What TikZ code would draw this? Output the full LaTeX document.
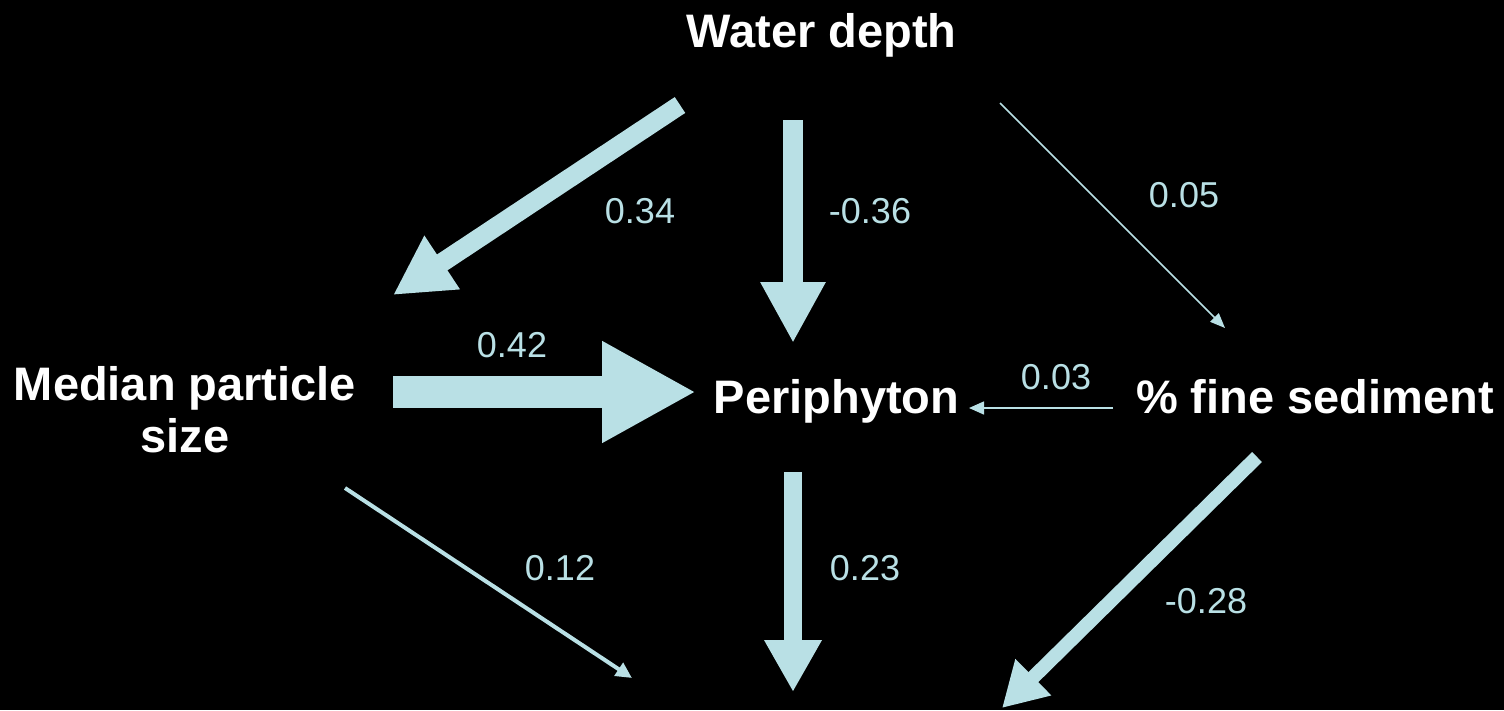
\documentclass[tikz,border=0pt]{standalone}
\usepackage{fontspec}
\setmainfont{Liberation Sans}
\usetikzlibrary{arrows.meta}
\definecolor{arr}{RGB}{185,224,229}
\begin{document}
\begin{tikzpicture}[x=1pt,y=-1pt,
  var/.style={font=\fontsize{47}{52}\selectfont\bfseries, text=white, inner sep=0pt, anchor=base},
  lab/.style={font=\fontsize{36}{40}\selectfont, text=arr, inner sep=0pt, anchor=base},
  conn/.style={draw=arr, line width=#1}]
\fill[black] (0,0) rectangle (1504,710);
\useasboundingbox (0,0) rectangle (1504,710);
% variables
\node[var] (wd) at (821.5,47) {Water depth};
\node[var, align=center] (mps) at (185,452) {Median particle\\size};
\node[var] (peri) at (836.5,413) {Periphyton};
\node[var] (fine) at (1315,413) {\% fine sediment};
% connector end points
\coordinate (wdA) at (680,105);  \coordinate (mpsT) at (393,295);
\coordinate (wdB) at (793,120);  \coordinate (periT) at (793,343);
\coordinate (wdC) at (1000,103); \coordinate (fineT) at (1225,328);
\coordinate (mpsA) at (393,392); \coordinate (periL) at (696,392);
\coordinate (fineA) at (1113,408); \coordinate (periR) at (969,408);
\coordinate (mpsB) at (345,488); \coordinate (botA) at (632,678);
\coordinate (periB) at (793,472); \coordinate (botB) at (793,692);
\coordinate (fineB) at (1257,457); \coordinate (botC) at (1002,708);
% connectors
\draw[conn=19pt, -{Triangle[length=59pt,width=60pt]}] (wdA) -- (mpsT);
\draw[conn=20pt, -{Triangle[length=61pt,width=61pt]}] (wdB) -- (periT);
\draw[conn=1.5pt, -{Triangle[length=15pt,width=12pt]}] (wdC) -- (fineT);
\draw[conn=32pt, -{Triangle[length=94pt,width=95pt]}] (mpsA) -- (periL);
\draw[conn=1.5pt, -{Triangle[length=15pt,width=13pt]}] (fineA) -- (periR);
\draw[conn=4pt, -{Triangle[length=16pt,width=15pt]}] (mpsB) -- (botA);
\draw[conn=18pt, -{Triangle[length=52pt,width=54pt]}] (periB) -- (botB);
\draw[conn=14pt, -{Triangle[length=44pt,width=48pt]}] (fineB) -- (botC);
% labels
\node[lab] (l1) at (640,223) {0.34};
\node[lab] (l2) at (870,223) {-0.36};
\node[lab] (l3) at (1184,207) {0.05};
\node[lab] (l4) at (512,357) {0.42};
\node[lab] (l5) at (1056,389) {0.03};
\node[lab] (l6) at (560,580) {0.12};
\node[lab] (l7) at (865,580) {0.23};
\node[lab] (l8) at (1206,613) {-0.28};
\end{tikzpicture}
\end{document}
